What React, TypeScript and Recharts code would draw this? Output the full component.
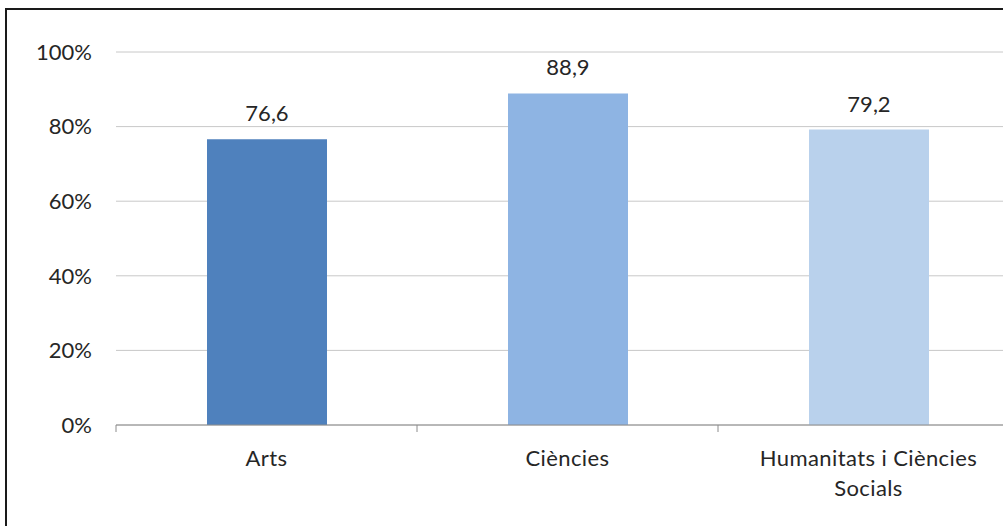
import { Bar, BarChart, CartesianGrid, Cell, LabelList, XAxis, YAxis } from "recharts";

const categories = ["Arts", "Ciències", "Humanitats i Ciències Socials"];
const tickLines = [["Arts"], ["Ciències"], ["Humanitats i Ciències", "Socials"]];
const values = [76.6, 88.9, 79.2];
const barColors = ["#4f81bd", "#8eb4e3", "#b9d1ec"];
const yTicks = [0, 20, 40, 60, 80, 100];

const data = categories.map((name, i) => ({ name, value: values[i] }));

const FONT = "Lato, 'Open Sans', sans-serif";

function CategoryTick(props: any) {
  const { x, y, payload, index } = props;
  const half = payload?.offset ?? 150.5;
  const lines = tickLines[index] ?? [String(payload.value)];
  return (
    <g>
      <line x1={x - half} x2={x - half} y1={y} y2={y + 7} stroke="#8c8c8c" />
      {index === categories.length - 1 && (
        <line x1={x + half} x2={x + half} y1={y} y2={y + 7} stroke="#8c8c8c" />
      )}
      {lines.map((t: string, i: number) => (
        <text
          key={i}
          x={x}
          y={y + 41 + i * 30}
          textAnchor="middle"
          fill="#262626"
          fontSize={22}
          fontFamily={FONT}
          letterSpacing={0.4}
        >
          {t}
        </text>
      ))}
    </g>
  );
}

export default function App() {
  return (
    <div
      style={{
        position: "fixed",
        left: 0,
        top: 0,
        width: 1003,
        height: 526,
        overflow: "hidden",
        background: "#fff",
      }}
    >
      <div
        style={{
          position: "absolute",
          left: 5,
          top: 8,
          width: 1100,
          height: 600,
          borderTop: "2px solid #1a1a1a",
          borderLeft: "2px solid #1a1a1a",
        }}
      />
      <div style={{ position: "absolute", left: 0, top: 0 }}>
        <BarChart
          width={1019}
          height={526}
          data={data}
          margin={{ top: 52, right: 0, bottom: 41, left: 36 }}
        >
          <CartesianGrid vertical={false} stroke="#c8c8c8" />
          <XAxis
            dataKey="name"
            stroke="#8c8c8c"
            tickLine={false}
            tickSize={0}
            tickMargin={0}
            height={60}
            interval={0}
            tick={<CategoryTick />}
          />
          <YAxis
            domain={[0, 100]}
            ticks={yTicks}
            width={80}
            axisLine={false}
            tickLine={false}
            tickMargin={18}
            tickFormatter={(v) => `${v}%`}
            tick={{ fill: "#262626", fontSize: 22, fontFamily: FONT }}
          />
          <Bar dataKey="value" barSize={120} isAnimationActive={false}>
            {data.map((d, i) => (
              <Cell key={d.name} fill={barColors[i]} />
            ))}
            <LabelList
              dataKey="value"
              position="top"
              offset={18}
              formatter={(v: any) => Number(v).toFixed(1).replace(".", ",")}
              style={{ fill: "#262626", fontSize: 22, fontFamily: FONT }}
            />
          </Bar>
        </BarChart>
      </div>
    </div>
  );
}
